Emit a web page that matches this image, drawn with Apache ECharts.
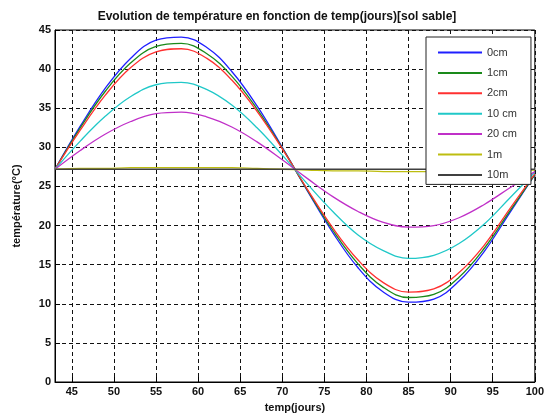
<!DOCTYPE html>
<html>
<head>
<meta charset="utf-8">
<script src="https://cdn.jsdelivr.net/npm/echarts@6/dist/echarts.min.js"></script>
<style>
  html, body { margin: 0; padding: 0; background: #fff; }
  #main { width: 547px; height: 418px; }
</style>
</head>
<body>
<div id="main"></div>
<script>
// jours (axe x)
var days = [43, 46, 49, 52, 55, 58, 61, 64, 67, 70, 73, 76, 79, 82, 85, 88, 91, 94, 97, 100];
var xTicks = [45, 50, 55, 60, 65, 70, 75, 80, 85, 90, 95, 100];

// température (°C) par profondeur
var t0cm  = [27.2, 32.7, 37.6, 41.4, 43.7, 44.1, 42.8, 39.7, 35.3, 30.0, 24.4, 19.1, 14.6, 11.5, 10.2, 10.6, 12.9, 16.7, 21.6, 26.5];
var t1cm  = [27.2, 32.5, 37.2, 40.8, 42.9, 43.3, 42.0, 39.1, 34.9, 29.9, 24.5, 19.4, 15.1, 12.1, 10.8, 11.2, 13.4, 17.1, 21.8, 26.5];
var t2cm  = [27.2, 32.2, 36.7, 40.2, 42.2, 42.6, 41.4, 38.6, 34.6, 29.8, 24.6, 19.7, 15.6, 12.7, 11.5, 11.9, 14.0, 17.5, 22.1, 26.6];
var t10cm = [27.2, 30.8, 34.0, 36.5, 38.0, 38.3, 37.4, 35.4, 32.5, 29.0, 25.3, 21.8, 18.8, 16.8, 15.8, 16.2, 17.7, 20.2, 23.5, 26.8];
var t20cm = [27.2, 29.6, 31.7, 33.3, 34.3, 34.5, 33.9, 32.6, 30.7, 28.4, 26.0, 23.7, 21.8, 20.4, 19.8, 20.0, 21.0, 22.7, 24.8, 26.9];
var t1m   = [27.2, 27.3, 27.3, 27.4, 27.4, 27.4, 27.4, 27.4, 27.3, 27.2, 27.1, 27.0, 27.0, 26.9, 26.9, 26.9, 27.0, 27.0, 27.1, 27.1];
var t10m  = [27.2, 27.2, 27.2, 27.2, 27.2, 27.2, 27.2, 27.2, 27.2, 27.2, 27.2, 27.2, 27.2, 27.2, 27.2, 27.2, 27.2, 27.2, 27.2, 27.2];

var names  = ['0cm', '1cm', '2cm', '10 cm', '20 cm', '1m', '10m'];
var temps  = [t0cm, t1cm, t2cm, t10cm, t20cm, t1m, t10m];
var colors = ['#1f1fff', '#1a8a1a', '#ff3030', '#20c8c8', '#c030c8', '#bdbd10', '#404040'];

var chart = echarts.init(document.getElementById('main'));

var series = names.map(function (n, i) {
    return {
        name: n,
        type: 'line',
        smooth: 0.4,
        symbol: 'none',
        lineStyle: { width: 1.3, color: colors[i] },
        itemStyle: { color: colors[i] },
        data: days.map(function (d, j) { return [d, temps[i][j]]; })
    };
});

var txt = { fontFamily: 'Liberation Sans, Arial, sans-serif', fontWeight: 'bold', fontSize: 11, color: '#111' };

chart.setOption({
    backgroundColor: '#fff',
    animation: false,
    title: {
        text: 'Evolution de température en fonction de temp(jours)[sol sable]',
        left: 272, top: 6, textAlign: 'center',
        textStyle: { fontFamily: 'Liberation Sans, Arial, sans-serif', fontWeight: 'bold', fontSize: 12, color: '#111' }
    },
    grid: {
        left: 55, right: 9, top: 30, bottom: 34,
        show: true, backgroundColor: '#fff', borderColor: '#000', borderWidth: 1
    },
    legend: {
        orient: 'vertical',
        left: 426, top: 37,
        padding: [10, 14, 4, 11],
        itemWidth: 44, itemHeight: 10, itemGap: 9.4,
        itemStyle: { opacity: 0 },
        backgroundColor: '#fff',
        borderColor: '#222', borderWidth: 1,
        textStyle: { fontFamily: 'Liberation Sans, Arial, sans-serif', fontSize: 11, color: '#333' },
        data: names
    },
    xAxis: {
        type: 'value',
        min: 43, max: 100,
        name: 'temp(jours)', nameLocation: 'middle', nameGap: 20,
        nameTextStyle: txt,
        axisLine: { lineStyle: { color: '#000' } },
        axisTick: { inside: true, length: 5, customValues: xTicks, lineStyle: { color: '#000' } },
        axisLabel: Object.assign({ customValues: xTicks, margin: 4 }, txt),
        splitLine: { show: true, lineStyle: { color: '#111', type: [4, 3], width: 1 } }
    },
    yAxis: {
        type: 'value',
        min: 0, max: 45, interval: 5,
        name: 'température(°C)', nameLocation: 'middle', nameGap: 33,
        nameTextStyle: txt,
        axisLine: { show: true, lineStyle: { color: '#000' } },
        axisTick: { show: true, inside: true, length: 5, lineStyle: { color: '#000' } },
        axisLabel: Object.assign({ margin: 4 }, txt),
        splitLine: { show: true, lineStyle: { color: '#111', type: [4, 3], width: 1 } }
    },
    series: series
});
</script>
</body>
</html>
